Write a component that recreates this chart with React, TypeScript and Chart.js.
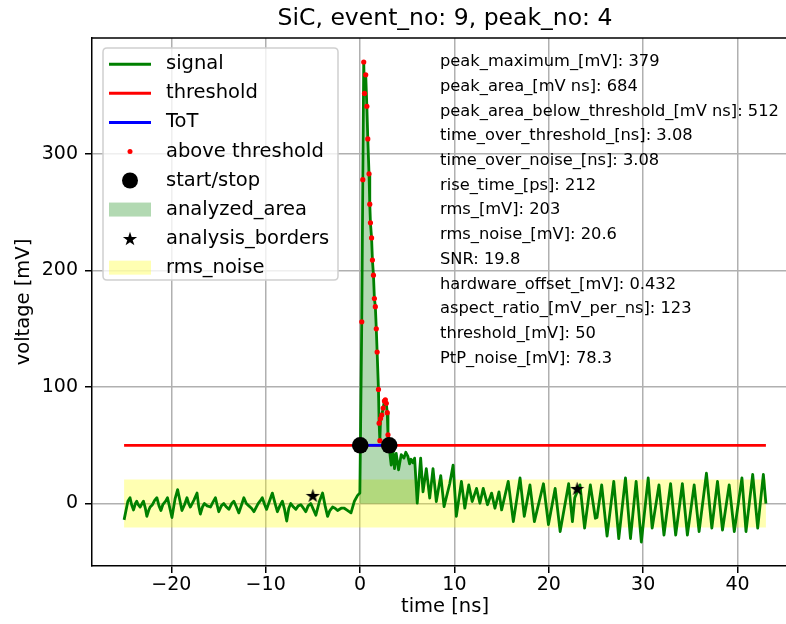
import React, { useEffect, useRef } from 'react';
import { Chart, registerables } from 'chart.js';
Chart.register(...registerables);

const TITLE = 'SiC, event_no: 9, peak_no: 4';
const X_LABEL = 'time [ns]';
const Y_LABEL = 'voltage [mV]';
const X_TICKS = [-20, -10, 0, 10, 20, 30, 40];
const Y_TICKS = [0, 100, 200, 300];
const X_MIN = -28.4;
const X_MAX = 46.4;
const Y_MIN = -53.6;
const Y_MAX = 399.6;

// signal trace: [time ns, voltage mV]
const SIGNAL_T = [
  -25.0, -24.85, -24.6, -24.37, -24.2, -24.0, -23.8, -23.66, -23.5, -23.3, -23.1, -22.95, -22.75, -22.59, -22.4, -22.24,
  -22.0, -21.75, -21.53, -21.3, -21.1, -20.9, -20.6, -20.4, -20.15, -19.93, -19.6, -19.33, -19.1, -18.87, -18.6, -18.34,
  -18.15, -17.98, -17.6, -17.27, -17.1, -16.92, -16.7, -16.49, -16.2, -15.85, -15.6, -15.32, -15.15, -14.97, -14.7, -14.44,
  -14.15, -13.9, -13.6, -13.37, -13.1, -12.84, -12.55, -12.31, -12.05, -11.78, -11.5, -11.24, -10.8, -10.6, -10.36, -10.1,
  -9.9, -9.6, -9.29, -9.0, -8.76, -8.5, -8.23, -8.0, -7.77, -7.55, -7.34, -7.05, -6.81, -6.55, -6.28, -6.0,
  -5.75, -5.5, -5.22, -4.95, -4.68, -4.3, -3.97, -3.7, -3.44, -3.2, -2.91, -2.65, -2.38, -2.0, -1.67, -1.3,
  -0.96, -0.6, -0.26, -0.02,
  0.18, 0.29, 0.39, 0.47, 0.6, 0.72, 0.82, 0.95, 1.03, 1.1, 1.22, 1.31, 1.42, 1.52, 1.62, 1.72,
  1.81, 1.95, 2.02, 2.1, 2.17, 2.3, 2.45, 2.58, 2.68, 2.78, 2.88, 2.96, 3.05,
  3.2, 3.3, 3.48, 3.65, 3.83, 4.08, 4.36, 4.65, 4.85, 5.07, 5.25, 5.4, 5.6, 5.78, 6.06, 6.42,
  6.67, 7.02, 7.38, 7.73, 8.08, 8.55, 8.9, 9.5, 9.86, 10.2, 10.74, 11.1, 11.52, 11.88, 12.34, 12.7,
  13.05, 13.5, 13.94, 14.29, 14.72, 15.0, 15.7, 16.24, 16.95, 17.4, 18.0, 18.47, 19.43, 19.96, 20.67, 21.2,
  22.1, 22.5, 22.75, 23.3, 23.79, 24.4, 24.93, 25.1, 25.6, 26.17, 26.88, 27.41, 28.12, 28.65, 29.25, 29.8,
  30.53, 30.95, 31.67, 32.2, 32.9, 33.44, 34.15, 34.68, 35.4, 35.92, 36.7, 37.27, 37.87, 38.4, 39.11, 39.65,
  40.46, 40.89, 41.6, 42.13, 42.73, 43.0,
];
const SIGNAL_V = [
  -14, -8, 2, 5, -1, -5.5, 0, 2, -1, -3, 0, 2, -4, -11, -6, -3,
  -1, 3, 5, -2, -6, -1, 2, 5, -4, -12, 4, 12, 3, -6, -1, 5,
  0, -3, 3, 9, -2, -9, -3, 0, -2, -3, 1, 5, -1, -7, -2, 0,
  -3, -5, 0, 2, -3, -8, -1, 5, 0, -2, -4, -7, 0, 2, 5, -1,
  -5, 2, 9, 0, -7, -2, 2, -5, -15, -4, 0, -3, -5, -2, -1, -4,
  -7, -2, 0, -5, -10, 2, 9, -2, -11, -6, -3, -4, -6, -4, -4, -6,
  -8, 2, 7, 9,
  156, 278, 379, 352, 368, 341, 313, 283, 257, 241, 228, 209, 196, 176, 169, 150,
  130, 98, 69, 54, 73, 76, 82, 88, 89, 86, 78, 59, 53,
  40, 33, 46, 30, 43, 29, 42, 39, 44, 40.5, 34, 38, 35, 39, 0.3, 39,
  10, 30, 4.6, 30, 1.7, 24, -2.6, 17, 33, -11, 19, -4, 16, 1.7, 13, 0.3,
  13, -1, 9, -4, 10, -5.5, 19, -15.5, 22, -11, 16, -15.5, 17, -18, 13, -24,
  17, -15.5, 5, 16, -21, 16, -12.6, -12, 16, -28, 19, -30, 22, -30, 19, -33,
  22, -21, 16, -27, 17, -27, 17, -27, 16, -24, 26, -21, 19, -22.7, 16, -24,
  22, -24, 25, -21, 25, 0,
];

const THRESHOLD = 50;
const TOT_START = 0.02;
const TOT_STOP = 3.09;
const ANALYZED_FROM = -0.04;
const ANALYZED_TO = 6.06;
const RMS_NOISE = 20.6;
const BORDER_T = [-5.0, 23.0];
const BORDER_V = [7, 13];

const LEGEND_LABELS = ['signal', 'threshold', 'ToT', 'above threshold', 'start/stop', 'analyzed_area', 'analysis_borders', 'rms_noise'];
const STATS_LINES = [
  'peak_maximum_[mV]: 379',
  'peak_area_[mV ns]: 684',
  'peak_area_below_threshold_[mV ns]: 512',
  'time_over_threshold_[ns]: 3.08',
  'time_over_noise_[ns]: 3.08',
  'rise_time_[ps]: 212',
  'rms_[mV]: 203',
  'rms_noise_[mV]: 20.6',
  'SNR: 19.8',
  'hardware_offset_[mV]: 0.432',
  'aspect_ratio_[mV_per_ns]: 123',
  'threshold_[mV]: 50',
  'PtP_noise_[mV]: 78.3',
];

const FONT = "'DejaVu Sans', sans-serif";
const GREEN = '#008000';
const GREEN_FILL = 'rgba(0,128,0,0.3)';
const YELLOW_FILL = 'rgba(255,255,0,0.3)';

function drawStar(ctx: CanvasRenderingContext2D, cx: number, cy: number, R: number) {
  const r = R * 0.382;
  ctx.beginPath();
  for (let i = 0; i < 10; i++) {
    const rad = i % 2 === 0 ? R : r;
    const a = -Math.PI / 2 + (i * Math.PI) / 5;
    const x = cx + rad * Math.cos(a);
    const y = cy + rad * Math.sin(a);
    if (i === 0) ctx.moveTo(x, y);
    else ctx.lineTo(x, y);
  }
  ctx.closePath();
  ctx.fillStyle = '#000';
  ctx.fill();
}

function makeStarCanvas(R: number) {
  const c = document.createElement('canvas');
  const s = Math.ceil(R * 2 + 2);
  c.width = s;
  c.height = s;
  const ctx = c.getContext('2d')!;
  drawStar(ctx, s / 2, s / 2 + R * 0.1, R);
  return c;
}

export default function App() {
  const ref = useRef<HTMLCanvasElement>(null);
  useEffect(() => {
    const canvas = ref.current!;
    const star = makeStarCanvas(7.5);
    const signal = SIGNAL_T.map((t, i) => ({ x: t, y: SIGNAL_V[i] }));
    const analyzed = signal.filter((p) => p.x >= ANALYZED_FROM && p.x <= ANALYZED_TO);
    const above = signal.filter((p) => p.x >= TOT_START && p.x <= TOT_STOP && p.y > THRESHOLD);
    const tStart = SIGNAL_T[0];
    const tEnd = SIGNAL_T[SIGNAL_T.length - 1];

    const overlay = {
      id: 'overlay',
      afterDraw(chart: any) {
        const ctx = chart.ctx as CanvasRenderingContext2D;
        const a = chart.chartArea;
        ctx.save();
        // frame (top and right spines)
        ctx.strokeStyle = '#000';
        ctx.lineWidth = 1.5;
        ctx.beginPath();
        ctx.moveTo(a.left, a.top);
        ctx.lineTo(a.right, a.top);
        ctx.lineTo(a.right, a.bottom);
        ctx.stroke();

        // title and axis labels
        ctx.fillStyle = '#000';
        ctx.textAlign = 'center';
        ctx.textBaseline = 'middle';
        ctx.font = `23.5px ${FONT}`;
        ctx.fillText(TITLE, (a.left + a.right) / 2, 19);
        ctx.font = `19.5px ${FONT}`;
        ctx.fillText(X_LABEL, (a.left + a.right) / 2, 607);
        ctx.save();
        ctx.translate(24, (a.top + a.bottom) / 2);
        ctx.rotate(-Math.PI / 2);
        ctx.fillText(Y_LABEL, 0, 0);
        ctx.restore();

        // statistics text
        ctx.textAlign = 'left';
        ctx.font = `16.3px ${FONT}`;
        STATS_LINES.forEach((s, i) => ctx.fillText(s, 440, 62 + i * 24.7));

        // legend
        const lx = 103, ly = 48, lw = 235, lh = 232;
        ctx.beginPath();
        const rr = 4;
        ctx.moveTo(lx + rr, ly);
        ctx.lineTo(lx + lw - rr, ly);
        ctx.quadraticCurveTo(lx + lw, ly, lx + lw, ly + rr);
        ctx.lineTo(lx + lw, ly + lh - rr);
        ctx.quadraticCurveTo(lx + lw, ly + lh, lx + lw - rr, ly + lh);
        ctx.lineTo(lx + rr, ly + lh);
        ctx.quadraticCurveTo(lx, ly + lh, lx, ly + lh - rr);
        ctx.lineTo(lx, ly + rr);
        ctx.quadraticCurveTo(lx, ly, lx + rr, ly);
        ctx.closePath();
        ctx.fillStyle = 'rgba(255,255,255,0.8)';
        ctx.fill();
        ctx.strokeStyle = '#d0d0d0';
        ctx.lineWidth = 1.5;
        ctx.stroke();

        const hx0 = 109, hx1 = 151, hc = 130;
        LEGEND_LABELS.forEach((label, i) => {
          const y = 64.3 + i * 29.05;
          if (i <= 2) {
            ctx.strokeStyle = [GREEN, '#ff0000', '#0000ff'][i];
            ctx.lineWidth = 3;
            ctx.beginPath();
            ctx.moveTo(hx0, y);
            ctx.lineTo(hx1, y);
            ctx.stroke();
          } else if (i === 3) {
            ctx.fillStyle = '#ff0000';
            ctx.beginPath();
            ctx.arc(hc, y, 2.5, 0, Math.PI * 2);
            ctx.fill();
          } else if (i === 4) {
            ctx.fillStyle = '#000';
            ctx.beginPath();
            ctx.arc(hc, y, 8, 0, Math.PI * 2);
            ctx.fill();
          } else if (i === 5 || i === 7) {
            ctx.fillStyle = i === 5 ? GREEN_FILL : YELLOW_FILL;
            ctx.fillRect(hx0, y - 7, hx1 - hx0, 14);
          } else if (i === 6) {
            drawStar(ctx, hc, y + 0.7, 7.5);
          }
          ctx.fillStyle = '#000';
          ctx.font = `19.5px ${FONT}`;
          ctx.fillText(label, 166, y);
        });
        ctx.restore();
      },
    };

    const chart = new Chart(canvas, {
      type: 'line',
      data: {
        datasets: [
          {
            label: 'rms_noise',
            data: [{ x: tStart, y: RMS_NOISE }, { x: tEnd, y: RMS_NOISE }],
            borderWidth: 0,
            borderColor: 'rgba(0,0,0,0)',
            backgroundColor: YELLOW_FILL,
            pointRadius: 0,
            fill: { value: -RMS_NOISE },
            order: 9,
          },
          {
            label: 'analyzed_area',
            data: analyzed,
            borderWidth: 0,
            borderColor: 'rgba(0,0,0,0)',
            backgroundColor: GREEN_FILL,
            pointRadius: 0,
            fill: { value: 0 },
            order: 8,
          },
          {
            label: 'signal',
            data: signal,
            borderColor: GREEN,
            borderWidth: 2.8,
            borderJoinStyle: 'round',
            pointRadius: 0,
            fill: false,
            order: 7,
          },
          {
            label: 'threshold',
            data: [{ x: tStart, y: THRESHOLD }, { x: tEnd, y: THRESHOLD }],
            borderColor: '#ff0000',
            borderWidth: 2.8,
            pointRadius: 0,
            fill: false,
            order: 6,
          },
          {
            label: 'ToT',
            data: [{ x: TOT_START, y: THRESHOLD }, { x: TOT_STOP, y: THRESHOLD }],
            borderColor: '#0000ff',
            borderWidth: 2.8,
            pointRadius: 0,
            fill: false,
            order: 5,
          },
          {
            label: 'above threshold',
            data: above,
            showLine: false,
            pointRadius: 2.6,
            pointBackgroundColor: '#ff0000',
            pointBorderWidth: 0,
            borderColor: '#ff0000',
            fill: false,
            order: 4,
          },
          {
            label: 'start/stop',
            data: [{ x: TOT_START, y: THRESHOLD }, { x: TOT_STOP, y: THRESHOLD }],
            showLine: false,
            pointRadius: 8.3,
            pointBackgroundColor: '#000',
            pointBorderWidth: 0,
            borderColor: '#000',
            fill: false,
            order: 3,
          },
          {
            label: 'analysis_borders',
            data: BORDER_T.map((t, i) => ({ x: t, y: BORDER_V[i] })),
            showLine: false,
            pointStyle: star as any,
            pointRadius: 8,
            fill: false,
            order: 2,
          },
        ],
      },
      options: {
        animation: false,
        responsive: false,
        devicePixelRatio: 1,
        layout: { padding: { top: 38, right: 12, left: 0, bottom: 0 } },
        plugins: {
          legend: { display: false },
          tooltip: { enabled: false },
          title: { display: false },
        },
        scales: {
          x: {
            type: 'linear',
            min: X_MIN,
            max: X_MAX,
            afterBuildTicks: (s: any) => {
              s.ticks = X_TICKS.map((v) => ({ value: v }));
            },
            afterFit: (s: any) => {
              s.height = 58;
            },
            grid: { color: '#b0b0b0', lineWidth: 1.5, tickColor: '#000', tickWidth: 1.5, tickLength: 7 },
            border: { color: '#000', width: 1.5 },
            ticks: {
              color: '#000',
              font: { family: FONT, size: 19, lineHeight: 1 },
              padding: 3,
              maxRotation: 0,
              autoSkip: false,
              callback: (v: any) => (Number(v) < 0 ? '\u2212' + Math.abs(Number(v)) : String(v)),
            },
          },
          y: {
            type: 'linear',
            min: Y_MIN,
            max: Y_MAX,
            afterBuildTicks: (s: any) => {
              s.ticks = Y_TICKS.map((v) => ({ value: v }));
            },
            afterFit: (s: any) => {
              s.width = 92;
            },
            grid: { color: '#b0b0b0', lineWidth: 1.5, tickColor: '#000', tickWidth: 1.5, tickLength: 7 },
            border: { color: '#000', width: 1.5 },
            ticks: {
              color: '#000',
              font: { family: FONT, size: 19, lineHeight: 1 },
              padding: 7,
              autoSkip: false,
              callback: (v: any) => String(v),
            },
          },
        },
      },
      plugins: [overlay],
    });
    return () => chart.destroy();
  }, []);

  return (
    <div
      style={{
        position: 'absolute',
        left: 0,
        top: 0,
        width: 786,
        height: 624,
        overflow: 'hidden',
        background: '#fff',
      }}
    >
      <canvas ref={ref} width={810} height={624} style={{ display: 'block', width: 810, height: 624 }} />
    </div>
  );
}
